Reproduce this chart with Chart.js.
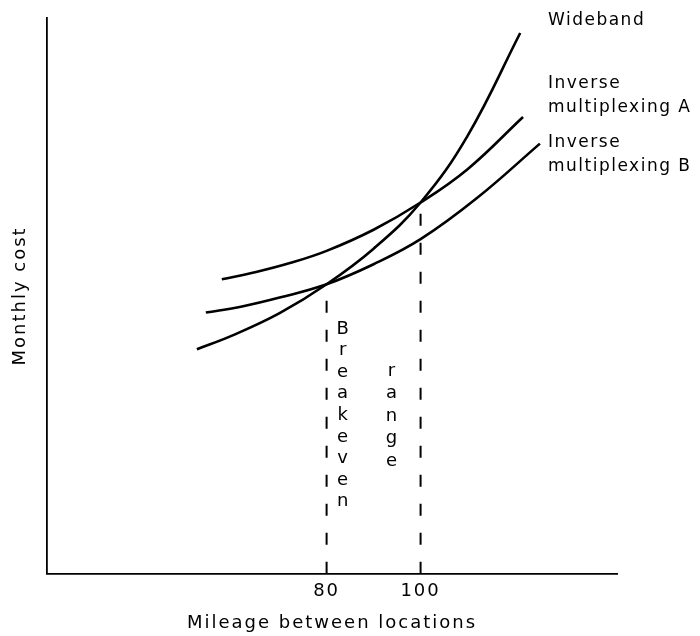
<!DOCTYPE html>
<html>
<head>
<title>Breakeven range</title>
<script src="https://cdn.jsdelivr.net/npm/chart.js@4.4.1/dist/chart.umd.min.js"></script>
<style>
body { margin: 0; background: #fff; }
#wrap { width: 700px; height: 636px; }
</style>
</head>
<body>
<div id="wrap"><canvas id="c" width="700" height="636"></canvas></div>
<script>
// values (cost axis has no scale, 0-100 relative)
var xTicks = [80, 100];
var wideMiles = [52.4, 60, 70, 80, 90, 100, 110, 121.2];
var wideCost  = [40.4, 42.9, 46.9, 52.1, 58.5, 66.8, 78.8, 97.3];
var invAMiles = [57.7, 65, 72.2, 80, 90, 100, 110, 121.8];
var invACost  = [53.0, 54.3, 55.9, 58.1, 61.9, 66.8, 72.8, 82.2];
var invBMiles = [54.3, 62, 70, 80, 90, 100, 112, 125.4];
var invBCost  = [47.0, 48.1, 49.7, 52.1, 55.7, 60.2, 67.6, 77.4];
var breakMiles = [80, 100];
var breakTop   = [50.6, 64.9];

function pts(xs, ys) {
  return xs.map(function (x, i) { return { x: x, y: ys[i] }; });
}

function curve(label, xs, ys) {
  return {
    label: label,
    data: pts(xs, ys),
    borderColor: '#000',
    borderWidth: 2.6,
    pointRadius: 0,
    fill: false,
    tension: 0.4
  };
}

function dashed(i) {
  return {
    label: 'breakeven ' + breakMiles[i],
    data: [{ x: breakMiles[i], y: 0 }, { x: breakMiles[i], y: breakTop[i] }],
    borderColor: '#000',
    borderWidth: 2,
    borderDash: [12, 17],
    pointRadius: 0,
    fill: false
  };
}

var textPlugin = {
  id: 'texts',
  beforeDraw: function (chart) {
    chart.ctx.letterSpacing = '2px';
  },
  afterDraw: function (chart) {
    var ctx = chart.ctx;
    var xs = chart.scales.x;
    ctx.save();
    ctx.fillStyle = '#000';
    ctx.font = '17px "DejaVu Sans"';
    ctx.letterSpacing = '1.5px';
    ctx.textAlign = 'left';
    ctx.textBaseline = 'alphabetic';
    ctx.fillText('Wideband', 548, 25);
    ctx.fillText('Inverse', 548, 88);
    ctx.fillText('multiplexing A', 548, 112);
    ctx.fillText('Inverse', 548, 147);
    ctx.fillText('multiplexing B', 548, 171);

    // vertical stacked words between the dashed lines
    ctx.letterSpacing = '0px';
    ctx.font = '18px "DejaVu Sans"';
    ctx.textAlign = 'center';
    ctx.textBaseline = 'middle';
    var bx = xs.getPixelForValue(80) + 16;
    'Breakeven'.split('').forEach(function (ch, i) {
      ctx.fillText(ch, bx, 329 + i * 21.6);
    });
    var rx = xs.getPixelForValue(93.8);
    'range'.split('').forEach(function (ch, i) {
      ctx.fillText(ch, rx, 371 + i * 22.5);
    });
    ctx.restore();
  }
};

Chart.defaults.font.family = '"DejaVu Sans"';
Chart.defaults.color = '#000';

new Chart(document.getElementById('c').getContext('2d'), {
  type: 'line',
  data: {
    datasets: [
      curve('Wideband', wideMiles, wideCost),
      curve('Inverse multiplexing A', invAMiles, invACost),
      curve('Inverse multiplexing B', invBMiles, invBCost),
      dashed(0),
      dashed(1)
    ]
  },
  options: {
    responsive: false,
    animation: false,
    layout: { padding: { left: 0, top: 18, right: 83, bottom: 0 } },
    plugins: { legend: { display: false }, tooltip: { enabled: false } },
    scales: {
      x: {
        type: 'linear',
        min: 20.5,
        max: 141.8,
        afterBuildTicks: function (axis) {
          axis.ticks = xTicks.map(function (v) { return { value: v }; });
        },
        ticks: { font: { size: 18 }, padding: 7.2, maxRotation: 0 },
        grid: { display: false, drawTicks: false },
        border: { display: true, color: '#000', width: 1.8 },
        title: {
          display: true,
          text: 'Mileage between locations',
          font: { size: 18 },
          padding: { top: 2.4, bottom: 2.2 }
        }
      },
      y: {
        min: 0,
        max: 100,
        ticks: { display: false },
        grid: { display: false, drawTicks: false },
        border: { display: true, color: '#000', width: 1.8 },
        title: {
          display: true,
          text: 'Monthly cost',
          font: { size: 18 },
          padding: { top: 9.2, bottom: 16.2 }
        }
      }
    }
  },
  plugins: [textPlugin]
});
</script>
</body>
</html>
